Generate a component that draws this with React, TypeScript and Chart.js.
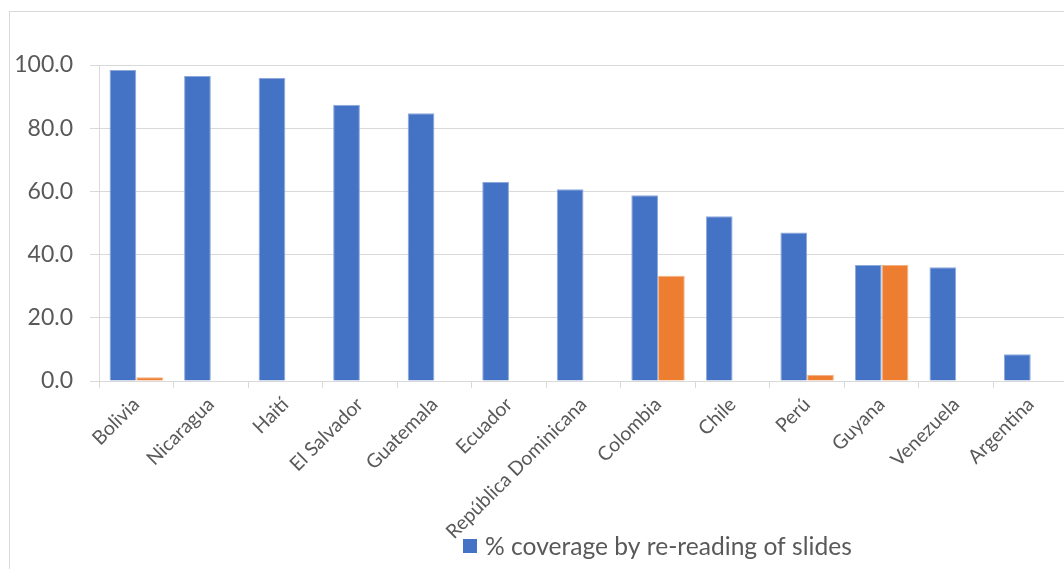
import { useEffect, useRef } from 'react';
import { Chart, registerables } from 'chart.js';

Chart.register(...registerables);

// Countries along the category axis
const countries = [
  'Bolivia',
  'Nicaragua',
  'Haití',
  'El Salvador',
  'Guatemala',
  'Ecuador',
  'República Dominicana',
  'Colombia',
  'Chile',
  'Perú',
  'Guyana',
  'Venezuela',
  'Argentina',
];

// % coverage by re-reading of slides
const rereadCoverage = [98.4, 96.5, 95.9, 87.4, 84.7, 63.0, 60.7, 58.8, 52.1, 47.0, 36.7, 36.0, 8.5];

// Second series (not shown in the legend)
const secondSeries = [1.2, null, null, null, null, null, null, 33.3, null, 2.0, 36.7, null, null];

// Value axis
const yMin = 0;
const yMax = 100;
const yStep = 20;

const BLUE = '#4472C4';
const ORANGE = '#ED7D31';
const GRID = '#D9D9D9';
const TEXT = '#595959';
const FONT = 'Lato';

const CANVAS_W = 1090;
const CANVAS_H = 570;

// Legend drawn below the axis labels, only for the first series
const legendPlugin = {
  id: 'singleLegend',
  afterDraw(chart: any) {
    const ctx: CanvasRenderingContext2D = chart.ctx;
    const ds = chart.data.datasets[0];
    const boxX = 453;
    const boxY = 527;
    const box = 14;
    ctx.save();
    ctx.fillStyle = ds.backgroundColor;
    ctx.fillRect(boxX, boxY, box, box);
    ctx.font = `24.6px ${FONT}`;
    ctx.fillStyle = TEXT;
    ctx.textAlign = 'left';
    ctx.textBaseline = 'alphabetic';
    ctx.fillText(ds.label, boxX + box + 8, 543);
    ctx.restore();
  },
};

export default function App() {
  const canvasRef = useRef<HTMLCanvasElement | null>(null);

  useEffect(() => {
    const canvas = canvasRef.current;
    if (!canvas) return;
    const chart = new Chart(canvas, {
      type: 'bar',
      data: {
        labels: countries,
        datasets: [
          {
            label: '% coverage by re-reading of slides',
            data: rereadCoverage,
            backgroundColor: BLUE,
            borderColor: '#8DA9DB',
            borderWidth: 1,
          },
          {
            label: 'Series 2',
            data: secondSeries,
            backgroundColor: ORANGE,
            borderColor: '#F4B183',
            borderWidth: 1,
          },
        ],
      },
      options: {
        responsive: false,
        animation: false,
        devicePixelRatio: 1,
        layout: { padding: { left: 0, top: 53, right: 32, bottom: 0 } },
        datasets: {
          bar: { categoryPercentage: 0.717, barPercentage: 1 },
        },
        plugins: {
          legend: { display: false },
          tooltip: { enabled: false },
          title: { display: false },
        },
        scales: {
          x: {
            offset: true,
            afterFit(scale: any) {
              scale.height = CANVAS_H - 369;
            },
            grid: {
              offset: true,
              drawOnChartArea: false,
              drawTicks: true,
              tickLength: 7,
              color: GRID,
            },
            border: { display: true, color: GRID },
            ticks: {
              autoSkip: false,
              minRotation: 45,
              maxRotation: 45,
              padding: 5,
              color: TEXT,
              font: { family: FONT, size: 19.5 },
            },
          },
          y: {
            min: yMin,
            max: yMax,
            afterFit(scale: any) {
              scale.width = 89;
            },
            grid: {
              color: GRID,
              drawTicks: true,
              tickLength: 9,
            },
            border: { display: true, color: GRID },
            ticks: {
              stepSize: yStep,
              padding: 17,
              color: TEXT,
              font: { family: FONT, size: 23 },
              callback: (v: any) => Number(v).toFixed(1),
            },
          },
        },
      },
      plugins: [legendPlugin],
    });
    return () => chart.destroy();
  }, []);

  return (
    <div
      style={{
        position: 'fixed',
        left: 0,
        top: 0,
        width: 1064,
        height: 569,
        overflow: 'hidden',
        background: '#fff',
      }}
    >
      <div
        style={{
          position: 'absolute',
          left: 9,
          top: 11,
          width: CANVAS_W + 2,
          height: CANVAS_H + 2,
          border: `1px solid ${GRID}`,
          boxSizing: 'border-box',
        }}
      >
        <canvas
          ref={canvasRef}
          width={CANVAS_W}
          height={CANVAS_H}
          style={{ display: 'block', width: CANVAS_W, height: CANVAS_H }}
        />
      </div>
    </div>
  );
}
